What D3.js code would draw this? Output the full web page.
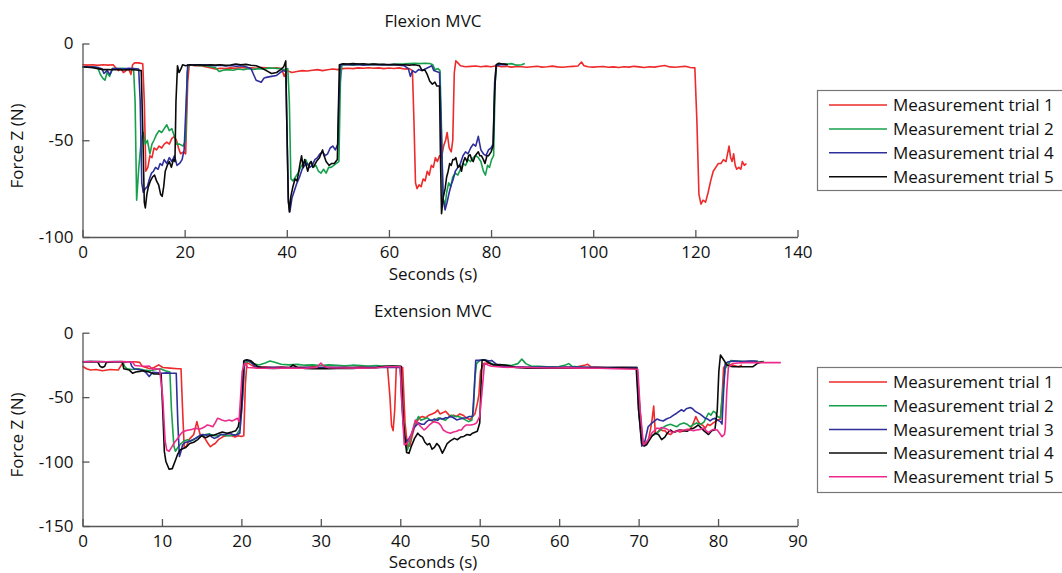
<!DOCTYPE html>
<html>
<head>
<meta charset="utf-8">
<script src="https://cdn.jsdelivr.net/npm/d3@7"></script>
<style>
  html, body { margin: 0; padding: 0; background: #fff; }
  svg { display: block; }
  text { font-family: "Open Sans", "Noto Sans", sans-serif; fill: #111; }
</style>
</head>
<body>
<svg id="chart" width="1062" height="573"></svg>
<script>
// ---- Flexion MVC: [seconds, force Z (N)] ----
const flexTrial1 = [[0,-11],[1,-11.2],[2,-11],[3,-11.3],[4,-11],[5,-11.2],[6,-11],[6.5,-12.5],[7,-14],[7.5,-13],[8,-15],[8.5,-14],[9,-13],[9.5,-16],[9.8,-11],[10.2,-10],[11,-10],[11.8,-10.5],[12.1,-30],[12.4,-66],[12.8,-64],[13.2,-58],[13.6,-59],[14,-54],[14.5,-55],[15,-53],[15.5,-54],[16,-52],[16.5,-51],[17,-52],[17.5,-49],[18,-48],[18.4,-50],[18.8,-54],[19.2,-57],[19.8,-56],[20.2,-57],[20.6,-20],[20.9,-11],[22,-11.5],[23,-11.3],[24,-12],[25,-12.5],[26,-13.2],[27,-12.8],[28,-13],[29,-12.6],[30,-12.8],[31,-12.4],[32,-12.7],[33,-12.5],[34,-12.8],[35,-12.4],[36,-12.6],[37,-12.8],[38,-12.5],[39,-13],[39.5,-17],[40,-14],[41,-15],[42,-14.5],[43,-14],[44,-14.2],[45,-13.8],[46,-13.5],[47,-14],[48,-13.6],[49,-13.2],[50,-13.5],[51,-13],[52,-12.8],[53,-13],[54,-12.6],[55,-12.8],[56,-12.5],[57,-12.8],[58,-12.6],[59,-13],[60,-12.7],[61,-12.9],[62,-12.6],[63,-13.2],[64,-13],[64.6,-14],[64.9,-40],[65.2,-72],[65.5,-75],[65.9,-73],[66.3,-74],[66.7,-70],[67.1,-71],[67.5,-66],[67.9,-68],[68.3,-63],[68.7,-64],[69.1,-59],[69.5,-61],[69.9,-58],[70.3,-59],[70.7,-53],[71.1,-50],[71.4,-46],[71.8,-54],[72.2,-56],[72.5,-50],[72.8,-15],[73.1,-9],[73.5,-10],[74,-11.5],[75,-12],[76,-11.8],[77,-11.6],[78,-12],[79,-11.7],[80,-12],[81,-11.5],[82,-12],[83,-11.8],[84,-12.2],[85,-11.9],[86,-12],[87,-12.3],[88,-12],[89,-11.8],[90,-12.2],[91,-12],[92,-11.7],[93,-12.1],[94,-12.3],[95,-12],[96,-11.8],[97,-11.6],[97.7,-9.6],[98.2,-11.5],[99,-12],[100,-12.2],[101,-12],[102,-11.9],[103,-12.3],[104,-12.1],[105,-12.4],[106,-12],[107,-12.2],[108,-11.8],[109,-12.1],[110,-12.4],[111,-12],[112,-12.2],[113,-11.8],[114,-11.4],[115,-12.1],[116,-12.3],[117,-12],[118,-11.8],[119,-12.4],[119.9,-12.6],[120.3,-40],[120.7,-78],[121.1,-83],[121.5,-81],[122,-82],[122.5,-77],[123,-71],[123.5,-66],[124,-64],[124.5,-62],[125,-62],[125.5,-60],[126,-61],[126.3,-57],[126.6,-53],[126.9,-59],[127.2,-61],[127.5,-57],[127.8,-63],[128.1,-65],[128.5,-64],[128.9,-65],[129.2,-61],[129.6,-63],[130,-62]];
const flexTrial2 = [[0,-12],[1,-12.2],[2,-12],[3,-12.5],[3.5,-16],[4,-18],[4.4,-19],[4.8,-15],[5.3,-17],[5.8,-13],[7,-13],[8,-12.8],[9,-13.2],[10,-13],[10.3,-30],[10.6,-81],[11,-65],[11.5,-50],[11.9,-46],[12.3,-52],[12.7,-50],[13.2,-57],[13.6,-52],[14,-50],[14.5,-47],[15,-45],[15.5,-46],[16,-44],[16.5,-42],[17,-45],[17.5,-44],[18,-48],[18.4,-52],[19,-52],[19.7,-53],[20.2,-50],[20.5,-15],[20.8,-11],[22,-11.2],[23,-11.5],[24,-11.3],[25,-12],[26,-12.5],[26.8,-14.5],[27.5,-13.8],[28.5,-13.5],[29.5,-13.8],[30.5,-13.2],[31.5,-13.6],[32.5,-13],[33.5,-13.4],[34.5,-13],[35.5,-13.3],[36.5,-12.6],[37.5,-12.8],[38.5,-13],[39.5,-13.4],[40.2,-13],[40.5,-30],[40.8,-70],[41.2,-71],[41.7,-69],[42.2,-67],[42.7,-64],[43.2,-62],[43.7,-60],[44.2,-63],[44.7,-61],[45.2,-64],[45.7,-63],[46.2,-66],[46.7,-67],[47.2,-65],[47.7,-67],[48.2,-64],[48.7,-64],[49.2,-63],[49.7,-62],[50.2,-61],[50.5,-20],[50.8,-11],[52,-11],[53,-11.2],[54,-10.8],[55,-11],[56,-11.1],[57,-10.8],[58,-11],[59,-10.9],[60,-11.1],[61,-10.8],[62,-10.6],[63,-10.5],[64,-10.3],[65,-10.2],[66,-10.4],[67,-10.2],[68,-10.3],[68.6,-11],[69,-13.5],[69.6,-13],[70,-14],[70.3,-45],[70.6,-80],[71,-84],[71.3,-77],[71.7,-72],[72.1,-74],[72.5,-69],[73,-67],[73.5,-68],[74,-65],[74.5,-62],[75,-63],[75.5,-60],[76,-61],[76.5,-59],[77,-58],[77.5,-59],[78,-61],[78.5,-66],[78.9,-68],[79.3,-63],[79.7,-64],[80.1,-60],[80.5,-58],[80.8,-20],[81.1,-11],[82,-10.5],[83,-10.7],[84,-10.4],[85,-11.2],[86,-11],[86.6,-10.3]];
const flexTrial4 = [[0,-12],[1,-12.2],[2,-12],[3,-12.4],[3.8,-13],[4.2,-15.5],[4.8,-14],[5.4,-16],[5.9,-13],[7,-13],[8,-13.2],[9,-12.8],[10,-13],[11,-13.2],[11.3,-30],[11.6,-72],[11.9,-77],[12.3,-75],[12.7,-74],[13.1,-70],[13.5,-67],[13.9,-66],[14.3,-64],[14.8,-65],[15.2,-62],[15.6,-63],[16,-60],[16.5,-62],[17,-59],[17.5,-61],[18,-58],[18.5,-63],[19,-62],[19.5,-60],[19.9,-55],[20.3,-30],[20.6,-11],[22,-11],[23,-11.2],[24,-11],[25,-11.3],[26,-11.5],[27,-11.2],[28,-11.6],[29,-11.4],[30,-11.8],[31,-11.5],[32,-12],[33,-13],[33.5,-16],[34,-19],[34.5,-19.5],[35,-20],[35.5,-18],[36,-17.5],[37,-17],[38,-16.5],[38.7,-15],[39.3,-14],[39.8,-14.5],[40,-40],[40.3,-82],[40.6,-87],[41,-80],[41.5,-76],[42,-72],[42.5,-69],[43,-65],[43.5,-63],[44,-62],[44.5,-64],[45,-63],[45.5,-60],[46,-59],[46.5,-57],[47,-56],[47.5,-58],[48,-57],[48.5,-54],[49,-53],[49.5,-55],[50,-52],[50.2,-30],[50.5,-11],[52,-10.8],[53,-11],[54,-10.8],[55,-11.2],[56,-11],[57,-10.8],[58,-11],[59,-11.1],[60,-10.9],[61,-11],[62,-11.2],[63,-11.5],[63.8,-13],[64.2,-17],[64.6,-14],[65.2,-15],[65.8,-13.5],[66.5,-14],[67.2,-13],[68,-12],[68.4,-11.5],[68.8,-14],[69.3,-14.5],[69.9,-15],[70.2,-40],[70.6,-80],[71,-86],[71.4,-82],[71.8,-77],[72.2,-73],[72.6,-70],[73,-66],[73.5,-64],[74,-62],[74.5,-58],[75,-56],[75.5,-57],[76,-54],[76.5,-52],[77,-53],[77.5,-48],[78,-55],[78.5,-57],[79,-58],[79.5,-55],[80,-54],[80.4,-52],[80.7,-20],[81,-11.5],[82,-10.8],[83,-11]];
const flexTrial5 = [[0,-12],[1,-12.3],[2,-12.5],[3,-13],[4,-13.5],[5,-13.4],[6,-13.6],[7,-13.5],[8,-13.7],[9,-13.5],[10,-13.6],[11,-13.8],[11.5,-14],[11.8,-45],[12.1,-82],[12.3,-85],[12.6,-78],[12.9,-74],[13.3,-71],[13.7,-69],[14.1,-68],[14.5,-71],[14.9,-73],[15.3,-78],[15.6,-79],[15.9,-74],[16.2,-66],[16.6,-63],[17,-61],[17.4,-64],[17.8,-60],[18.1,-61],[18.3,-30],[18.6,-11.5],[18.9,-15],[19.3,-13],[19.6,-11],[20.2,-11.5],[21,-11],[22,-11.2],[23,-11],[24,-11.3],[25,-11],[26,-11.2],[27,-11],[28,-11.3],[29,-11.1],[30,-10.6],[31,-11],[32,-10.8],[33,-11.2],[34,-11.5],[35,-12.5],[36,-14],[37,-15.5],[38,-15],[38.8,-13.5],[39.4,-12],[39.8,-9],[40,-40],[40.3,-80],[40.5,-87],[40.8,-79],[41.2,-74],[41.6,-70],[42,-71],[42.3,-67],[42.6,-62],[42.9,-58],[43.2,-64],[43.5,-60],[43.8,-63],[44.1,-66],[44.5,-62],[44.8,-61],[45.1,-64],[45.4,-63],[45.8,-61],[46.1,-60],[46.4,-59],[46.7,-57],[47,-55],[47.3,-58],[47.7,-61],[48,-62],[48.3,-63],[48.8,-62],[49.3,-62],[49.9,-60],[50.1,-35],[50.3,-11],[51,-10.5],[52,-10.6],[53,-10.4],[54,-10.6],[55,-10.5],[56,-10.7],[57,-10.6],[58,-10.8],[59,-10.7],[60,-11],[61,-10.8],[62,-11],[63,-11],[64,-11.2],[65,-11],[66,-11.5],[66.5,-14],[67,-13.5],[67.5,-16],[68,-19.5],[68.5,-21],[69,-20],[69.4,-22],[69.9,-22],[70.1,-60],[70.3,-88],[70.6,-80],[71,-75],[71.3,-69],[71.6,-66],[71.9,-62],[72.2,-63],[72.5,-60],[72.8,-60],[73.1,-59],[73.5,-64],[73.9,-63],[74.2,-66],[74.6,-61],[74.9,-59],[75.3,-61],[75.6,-58],[75.9,-57.5],[76.2,-60],[76.5,-61],[76.9,-58],[77.2,-57],[77.5,-56],[77.8,-58],[78.1,-58],[78.5,-60],[78.8,-62],[79.2,-58],[79.5,-58],[80,-56],[80.4,-53],[80.7,-25],[81,-11],[81.5,-10.2],[82,-10.5],[83,-10.8],[83.3,-11]];

// ---- Extension MVC: [seconds, force Z (N)] ----
const extTrial1 = [[0,-26],[0.5,-28],[1,-29],[1.7,-28.5],[2.5,-29.5],[3.5,-28.5],[4.5,-29],[5,-24],[5.5,-22.5],[6.5,-22.5],[7.2,-23],[7.5,-26],[8,-27],[8.5,-28],[9,-27],[9.6,-25],[10.1,-27],[11,-27.5],[12,-28],[12.4,-28],[12.6,-60],[12.8,-89],[13.1,-88],[13.4,-83],[13.7,-81],[14,-79],[14.4,-69],[14.8,-79],[15.1,-80],[15.4,-82],[15.8,-86],[16.1,-88.5],[16.4,-87],[16.7,-86],[17.1,-83],[17.6,-81],[18,-80],[18.4,-79.5],[18.8,-80],[19.2,-81],[19.6,-80],[20,-80.5],[20.3,-80],[20.5,-40],[20.7,-23],[21.2,-25],[21.8,-27],[23,-26.5],[24,-27],[25,-26.5],[26,-27],[27,-26.8],[28,-27],[29,-26.5],[30,-27],[31,-26.8],[32,-27],[33,-26.6],[34,-27],[35,-26.5],[36,-26.8],[37,-27],[38,-26.5],[38.4,-27],[38.7,-50],[38.9,-72],[39.1,-76],[39.3,-60],[39.5,-27],[40,-26.5],[40.3,-27],[40.6,-70],[40.9,-88],[41.2,-88],[41.5,-80],[41.8,-73],[42.1,-69],[42.4,-66],[42.8,-65],[43.2,-66],[43.6,-64],[44,-63],[44.4,-62],[44.7,-60],[45,-63],[45.4,-62],[45.7,-61],[46,-63],[46.3,-65],[46.7,-64],[47.1,-65],[47.5,-63],[47.9,-64],[48.3,-66],[48.8,-67.5],[49.1,-65],[49.4,-63],[49.7,-55],[49.9,-48],[50.1,-30],[50.5,-24],[51,-23.5],[51.5,-24.5],[52.5,-26],[54,-26.5],[56,-26.8],[58,-27],[60,-26.6],[62,-26.8],[63.3,-25],[63.6,-24.5],[64,-26.5],[66,-27],[68,-26.8],[69.8,-27],[70.1,-55],[70.5,-85],[70.8,-87],[71.2,-84],[71.5,-75],[71.7,-67],[71.9,-57],[72.1,-78],[72.4,-77],[72.7,-75],[73,-76],[73.3,-76],[73.6,-78],[74,-79],[74.4,-77],[74.8,-76],[75.2,-77],[75.7,-76],[76.1,-75],[76.5,-75],[76.9,-70],[77.2,-65],[77.5,-69],[77.8,-71],[78.1,-72],[78.4,-74],[78.7,-71],[79,-72],[79.4,-70],[79.9,-68],[80.3,-67],[80.5,-50],[80.7,-27],[81,-25],[81.3,-24.3],[82,-25.5],[82.6,-26.4],[83,-25]];
const extTrial2 = [[0,-22.5],[1,-22.5],[2,-22.3],[3,-22.5],[4,-22.6],[5,-22.4],[5.3,-26],[5.6,-28],[6.2,-28.5],[7,-28],[7.8,-29],[8.5,-29.5],[9.2,-28.5],[9.8,-28],[10.4,-29.5],[11,-30.5],[11.2,-60],[11.5,-88],[11.7,-92],[12,-89],[12.4,-86],[12.8,-84],[13.2,-83],[13.6,-84],[14,-83],[14.5,-81],[15,-80],[15.5,-79],[16,-78.5],[16.5,-80],[17,-80],[17.5,-79],[18,-80],[18.5,-80],[19,-79.5],[19.4,-79],[19.8,-75],[20.1,-55],[20.4,-24],[20.8,-22],[21.5,-24],[22.2,-25],[23,-23.5],[23.6,-22],[24.2,-23],[25,-24.5],[26,-25],[27,-24.6],[28,-25.2],[29,-25],[30,-25.4],[31,-25],[32,-25.3],[33,-25.6],[34,-25.2],[35,-25.5],[36,-25.8],[37,-25.4],[38,-26],[39,-26],[40,-26.2],[40.3,-60],[40.6,-86],[40.9,-91],[41.2,-84],[41.5,-77],[41.9,-70],[42.3,-65],[42.6,-68],[43,-67],[43.4,-66],[43.8,-68],[44.2,-69],[44.8,-66],[45.2,-67],[45.7,-68],[46,-66],[46.4,-64],[46.9,-65],[47.3,-65],[47.7,-66],[48,-67],[48.3,-68],[48.6,-69],[49,-68],[49.2,-60],[49.4,-35],[49.6,-24],[50,-21.5],[50.5,-21],[51,-22],[51.5,-24],[52,-25],[53,-25],[54,-25.5],[54.8,-24],[55.3,-20.5],[55.8,-24],[56.5,-26],[57.5,-26],[58.5,-26.5],[60,-26.3],[60.8,-25],[61.2,-24],[61.6,-26],[63,-26.8],[65,-27],[67,-27],[69.8,-27],[70.1,-55],[70.5,-84],[70.8,-86],[71.3,-83],[71.7,-80],[72,-79],[72.5,-77],[73.1,-73.5],[73.5,-72],[74,-71],[74.4,-72],[74.8,-73],[75.2,-71],[75.7,-70],[76.1,-71],[76.5,-73],[77,-71],[77.3,-70],[77.8,-71],[78.2,-69.6],[78.5,-66],[78.8,-62.5],[79.1,-64],[79.4,-61],[79.7,-62],[79.9,-65],[80.3,-66],[80.6,-45],[80.9,-28],[81.2,-25],[81.6,-21.7],[82.4,-22],[83.5,-22.4],[84.5,-22],[85.2,-22.5],[85.8,-22.3]];
const extTrial3 = [[0,-22.5],[1,-22.4],[2,-22.5],[3,-22.5],[4,-22.4],[5,-22.6],[6,-22.5],[6.2,-26],[6.5,-28],[7,-28.5],[7.5,-29],[8,-31],[8.4,-34],[8.8,-30.8],[9.3,-31],[10,-31.5],[10.6,-31.2],[11.2,-31.5],[11.8,-31.5],[12,-70],[12.2,-96],[12.4,-92],[12.6,-87],[13,-85],[13.4,-84.5],[13.9,-83],[14.3,-81.7],[14.7,-80],[15.1,-79],[15.6,-79.5],[16,-79],[16.3,-81],[16.6,-82],[17,-81],[17.4,-79],[18,-79],[18.5,-78],[18.9,-79],[19.2,-79.5],[19.5,-79],[19.8,-78],[20.1,-55],[20.4,-21.5],[20.8,-21.5],[21.2,-23],[21.7,-26],[22.5,-27],[24,-26.8],[26,-27],[28,-26.8],[30,-27],[32,-26.8],[34,-27],[36,-26.9],[38,-26.8],[40,-27],[40.2,-55],[40.5,-80],[40.8,-84.5],[41.1,-82],[41.4,-79],[41.7,-74],[42,-72],[42.3,-70],[42.7,-71],[43,-71],[43.3,-69],[43.6,-67.7],[44,-68],[44.3,-67],[44.7,-68],[45,-66.4],[45.4,-67],[45.7,-66],[46,-66],[46.3,-65],[46.7,-66],[47.1,-67.7],[47.5,-67],[47.9,-66.4],[48.3,-66],[48.7,-65],[49.1,-65],[49.3,-45],[49.5,-21.5],[50,-21.5],[50.6,-21],[51.2,-22],[51.5,-21.5],[52,-24],[52.6,-26],[54,-26.5],[56,-26.8],[58,-26.6],[60,-26.8],[62,-26.6],[64,-26.8],[66,-27],[68,-27],[69.8,-27],[70,-60],[70.4,-88],[70.8,-84],[71.2,-73],[71.7,-70],[72.3,-67],[72.7,-68],[73.1,-68.5],[73.5,-67],[74,-65.7],[74.4,-64],[74.8,-62.5],[75.1,-61],[75.4,-59.8],[75.7,-61],[76,-59],[76.5,-58],[76.8,-59],[77.1,-61],[77.4,-62],[77.7,-63],[78.1,-65],[78.4,-66.5],[78.7,-67],[79,-68.4],[79.3,-67],[79.6,-66.5],[80,-68],[80.3,-69],[80.5,-70.9],[80.7,-45],[80.9,-24],[81.3,-22.5],[82,-22],[83,-22.3],[84,-22],[85,-22.2]];
const extTrial4 = [[0,-22.5],[1,-22.4],[1.9,-22.5],[2.2,-26],[2.5,-27],[2.8,-26],[3,-23],[4,-22.5],[5,-22.5],[5.2,-28],[5.9,-29],[6.3,-31.5],[6.7,-30.5],[7.2,-30],[7.6,-29.5],[8,-30],[8.4,-30.5],[9,-32],[9.5,-32],[9.9,-32.5],[10.1,-60],[10.3,-92],[10.5,-100],[10.9,-106],[11.3,-105.5],[11.7,-99],[12,-94],[12.3,-91],[12.6,-90],[13,-89],[13.5,-86],[14,-85],[14.5,-83],[15,-80],[15.5,-81.5],[16,-80],[16.5,-79.5],[17,-78.5],[17.6,-77],[18.2,-78],[18.8,-77],[19.3,-76],[19.6,-73],[19.9,-63],[20.1,-45],[20.3,-22],[20.7,-21],[21.2,-21.8],[21.6,-24],[22.1,-26.5],[23,-27.5],[24,-27.8],[25,-27.6],[26,-27.4],[26.5,-25],[27,-27],[28,-27.8],[29,-28],[30,-27.9],[31,-28],[32,-27.8],[33,-27.6],[34,-27.8],[35,-27.4],[36,-27.2],[37,-27],[38,-26],[39,-25.8],[40.1,-26],[40.4,-70],[40.8,-93],[41.1,-93.6],[41.4,-88],[41.8,-82],[42.2,-78],[42.5,-80],[42.8,-81],[43.1,-85],[43.4,-87],[43.7,-86],[44,-90.4],[44.3,-89],[44.6,-86],[44.9,-88],[45.3,-93.5],[45.6,-90],[45.9,-86],[46.3,-84],[46.8,-82],[47.2,-83],[47.6,-81],[48,-80.5],[48.4,-79],[48.8,-79.5],[49.1,-78],[49.7,-76.5],[50,-70],[50.2,-35],[50.3,-21.2],[50.7,-21.5],[51.2,-23.5],[51.7,-25],[52.5,-24.8],[53.6,-25.5],[54.5,-27],[56,-27.5],[58,-27.6],[60,-27.5],[62,-27.6],[64,-27.4],[66,-27.6],[68,-27.5],[69.7,-27.6],[70,-60],[70.4,-86],[70.7,-88],[71,-87],[71.4,-83],[71.7,-80],[72.1,-78],[72.5,-79],[72.9,-83],[73.3,-81],[73.6,-78],[74,-75.5],[74.3,-77],[74.6,-77],[74.9,-76],[75.2,-75.5],[75.6,-76],[76.1,-76.5],[76.5,-75],[76.9,-74.2],[77.2,-73],[77.5,-71.6],[77.9,-74],[78.2,-76],[78.5,-77.5],[78.8,-79],[79.2,-76],[79.6,-75.5],[79.9,-60],[80.1,-30],[80.3,-17.3],[80.7,-21],[81.1,-25],[81.5,-26],[81.9,-26.4],[83,-26.4],[84.4,-26.4],[85,-23.6],[85.6,-22.5]];
const extTrial5 = [[0,-22.5],[1,-22.5],[2,-22.4],[3,-22.5],[4,-22.5],[5,-22.4],[6.3,-22.8],[6.6,-25.5],[7.3,-25.8],[8,-26],[8.4,-25.8],[8.8,-28.3],[9.3,-28],[9.7,-28.3],[10.1,-50],[10.4,-84],[10.6,-91],[10.9,-92],[11.3,-88],[11.6,-85],[12,-82],[12.3,-79],[12.6,-77],[13,-76],[13.4,-75.5],[13.8,-75],[14.3,-74.2],[14.7,-75],[15.1,-74],[15.4,-73],[15.7,-71.6],[16,-72],[16.4,-73],[16.7,-70],[17,-66.4],[17.3,-67],[17.6,-68],[18,-68.5],[18.5,-67.7],[18.8,-68.5],[19.1,-67.7],[19.5,-66.4],[19.7,-69],[19.9,-50],[20.1,-30],[20.4,-23.7],[20.8,-27],[22,-27.5],[24,-27.6],[26,-27.4],[28,-27.6],[29.5,-27],[30,-23.5],[30.4,-26],[31,-27.2],[33,-27.4],[35,-27.5],[37,-27.2],[38.3,-26.4],[40,-26.4],[40.2,-55],[40.5,-87],[40.9,-85.7],[41.2,-82],[41.5,-76.8],[41.9,-67.7],[42.3,-71],[42.6,-73],[43,-75.5],[43.3,-74],[43.6,-72],[44,-70],[44.2,-69],[44.8,-70],[45.1,-72],[45.4,-75.5],[45.8,-77],[46.3,-78],[46.7,-77],[47.1,-76.5],[47.4,-75.5],[47.7,-75.5],[48,-73],[48.3,-71.6],[48.9,-71.6],[49.3,-71],[49.6,-70],[50,-65],[50.3,-45],[50.6,-23.7],[51,-25],[51.5,-26],[53,-26.8],[55,-27],[57,-27.2],[59,-27.4],[61,-27.3],[63,-27.5],[65,-27.6],[67,-28],[69.9,-28.4],[70.2,-60],[70.6,-87],[71.1,-84],[71.4,-81],[71.7,-77.5],[72,-76],[72.3,-74],[72.6,-74.5],[72.9,-73.6],[73.2,-74],[73.6,-75],[73.9,-76],[74.2,-77.5],[74.5,-77],[74.8,-76.5],[75.2,-76],[75.7,-75.5],[76.1,-75.5],[76.5,-75.5],[76.9,-76],[77.3,-75.5],[77.8,-75],[78.2,-74],[78.5,-76],[78.8,-77.5],[79.1,-76],[79.4,-75],[79.9,-75.5],[80.2,-78],[80.5,-80.7],[80.8,-79],[80.9,-75],[81.1,-45],[81.3,-27],[81.4,-26.4],[81.8,-24],[82.5,-23.5],[83.3,-23.2],[84.5,-23.2],[86,-23.2],[87.9,-23.2]];

// ---- labels, ticks, colours ----
const flexLabels = ["Measurement trial 1", "Measurement trial 2", "Measurement trial 4", "Measurement trial 5"];
const extLabels = ["Measurement trial 1", "Measurement trial 2", "Measurement trial 3", "Measurement trial 4", "Measurement trial 5"];
const flexXTicks = [0, 20, 40, 60, 80, 100, 120, 140];
const flexYTicks = [0, -50, -100];
const extXTicks = [0, 10, 20, 30, 40, 50, 60, 70, 80, 90];
const extYTicks = [0, -50, -100, -150];
const flexColors = ["#ee2a2a", "#17a04c", "#2f2f9c", "#0a0a0a"];
const extColors = ["#ee2a2a", "#17a04c", "#2f2f9c", "#0a0a0a", "#ec2a8c"];

const svg = d3.select("#chart");
const AXIS = "#555";
const plainNumber = d => String(d);   // ASCII hyphen for negatives

function panel(cfg) {
  const x = d3.scaleLinear().domain(cfg.xDomain).range([82.5, 797.5]);
  const y = d3.scaleLinear().domain(cfg.yDomain).range([cfg.bottom, cfg.top]);
  const g = svg.append("g");

  // traces
  const line = d3.line().x(d => x(d[0])).y(d => y(d[1]));
  cfg.series.forEach((s, i) => {
    g.append("path").datum(s)
      .attr("fill", "none")
      .attr("stroke", cfg.colors[i])
      .attr("stroke-width", 1.6)
      .attr("stroke-linejoin", "round")
      .attr("d", line);
  });

  // axes with inward ticks
  const xa = g.append("g").attr("transform", `translate(0,${cfg.bottom})`)
    .call(d3.axisBottom(x).tickValues(cfg.xTicks).tickFormat(plainNumber)
      .tickSizeInner(-7).tickSizeOuter(0).tickPadding(9));
  const ya = g.append("g").attr("transform", "translate(82.5,0)")
    .call(d3.axisLeft(y).tickValues(cfg.yTicks).tickFormat(plainNumber)
      .tickSizeInner(-7).tickSizeOuter(0).tickPadding(9));
  [xa, ya].forEach(a => {
    a.select(".domain").attr("stroke", AXIS).attr("stroke-width", 1.3);
    a.selectAll(".tick line").attr("stroke", AXIS).attr("stroke-width", 1.3);
    a.selectAll("text").attr("font-size", 17).attr("fill", "#111")
      .style("font-family", "'Open Sans', 'Noto Sans', sans-serif");
  });

  // titles
  g.append("text").attr("x", 433).attr("y", cfg.titleY).attr("text-anchor", "middle")
    .attr("font-size", 17).text(cfg.title);
  g.append("text").attr("x", 433).attr("y", cfg.xLabelY).attr("text-anchor", "middle")
    .attr("font-size", 17).text("Seconds (s)");
  g.append("text").attr("transform", `translate(23,${cfg.yLabelC}) rotate(-90)`)
    .attr("text-anchor", "middle").attr("font-size", 17).text("Force Z (N)");

  // legend
  const lg = g.append("g");
  lg.append("rect").attr("x", 817.5).attr("y", cfg.legTop + 0.5)
    .attr("width", 250).attr("height", cfg.legH)
    .attr("fill", "#fff").attr("stroke", "#777").attr("stroke-width", 1.2);
  cfg.labels.forEach((lab, i) => {
    const yy = cfg.legRow0 + i * cfg.legStep;
    lg.append("line").attr("x1", 829).attr("x2", 887).attr("y1", yy).attr("y2", yy)
      .attr("stroke", cfg.colors[i]).attr("stroke-width", 1.5);
    lg.append("text").attr("x", 893).attr("y", yy).attr("dy", "0.36em")
      .attr("font-size", 17).text(lab);
  });
}

panel({
  series: [flexTrial1, flexTrial2, flexTrial4, flexTrial5],
  colors: flexColors, labels: flexLabels,
  xDomain: [0, 140], yDomain: [-100, 0], xTicks: flexXTicks, yTicks: flexYTicks,
  top: 43.5, bottom: 237, title: "Flexion MVC", titleY: 27, xLabelY: 280, yLabelC: 146,
  legTop: 90, legH: 100, legRow0: 105, legStep: 23.9
});

panel({
  series: [extTrial1, extTrial2, extTrial3, extTrial4, extTrial5],
  colors: extColors, labels: extLabels,
  xDomain: [0, 90], yDomain: [-150, 0], xTicks: extXTicks, yTicks: extYTicks,
  top: 332.7, bottom: 526, title: "Extension MVC", titleY: 317, xLabelY: 568, yLabelC: 435,
  legTop: 367, legH: 125, legRow0: 382, legStep: 23.7
});
</script>
</body>
</html>
